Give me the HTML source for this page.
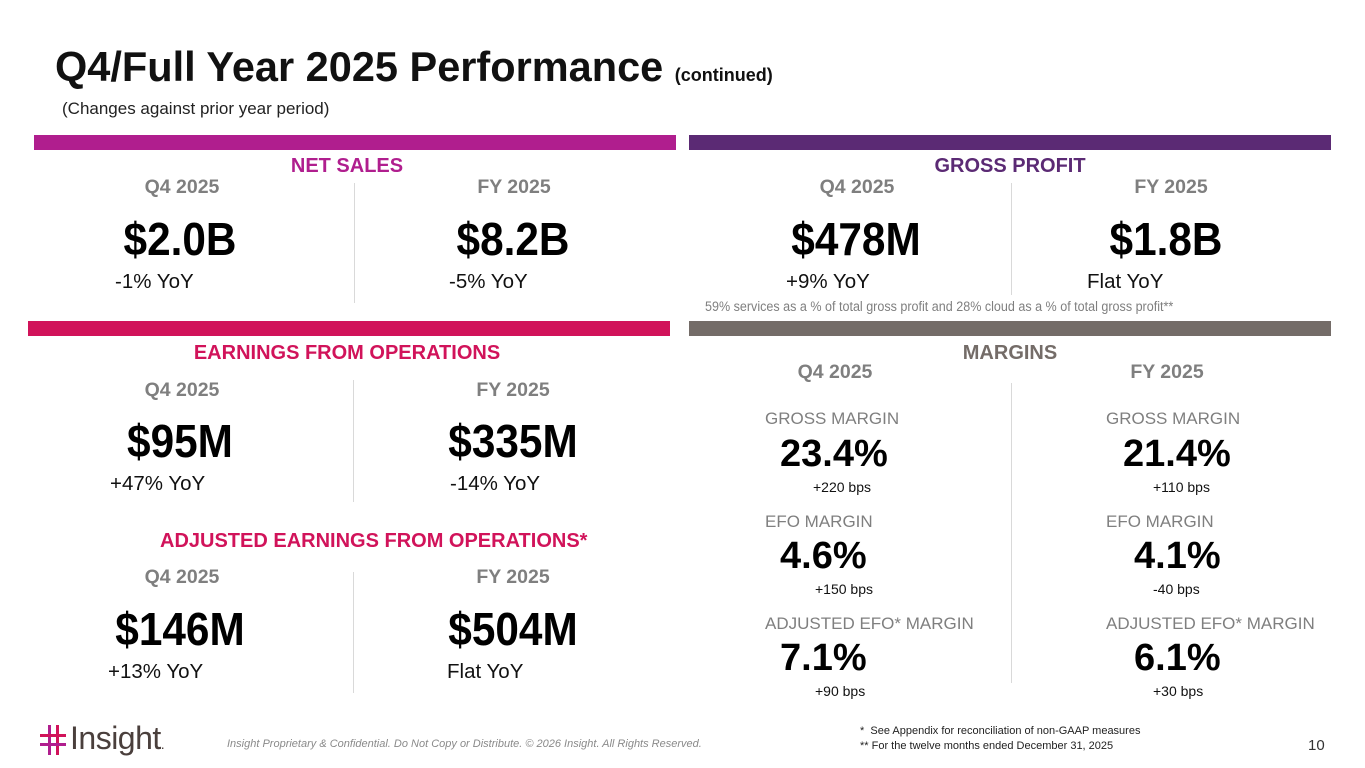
<!DOCTYPE html>
<html><head><meta charset="utf-8"><style>
body{margin:0;width:1365px;height:768px;position:relative;background:#fff;font-family:"Liberation Sans",Arial,sans-serif;overflow:hidden}
div{position:absolute;white-space:nowrap;line-height:1}
.c{width:400px;text-align:center}
.bar{height:15px}
.h{font-size:20px;font-weight:bold}
.p{font-size:19.5px;font-weight:bold;color:#7f7f7f}
.big{font-size:46px;font-weight:bold;color:#000;transform:scaleX(0.92)}
.y{font-size:20.5px;color:#111}
.dv{width:1px;background:#d9d9d9}
.ml{font-size:17px;color:#7f7f7f}
.mv{font-size:38px;font-weight:bold;color:#000}
.bp{font-size:14px;color:#111}
</style></head><body>
<div style="left:55px;top:46px;font-size:41.5px;font-weight:bold;color:#111">Q4/Full Year 2025 Performance <span style="font-size:18px">(continued)</span></div>
<div style="left:62px;top:100px;font-size:17px;color:#222">(Changes against prior year period)</div>

<div class="bar" style="left:34px;top:135px;width:642px;background:#B01E8E"></div>
<div class="bar" style="left:689px;top:135px;width:642px;background:#5B2A74"></div>
<div class="bar" style="left:28px;top:321px;width:642px;background:#D1135A"></div>
<div class="bar" style="left:689px;top:321px;width:642px;background:#746C68"></div>

<!-- Net sales -->
<div class="c h" style="left:147px;top:156px;color:#B01E8E">NET SALES</div>
<div class="c p" style="left:-18px;top:178px">Q4 2025</div>
<div class="c p" style="left:314px;top:178px">FY 2025</div>
<div class="c big" style="left:-20px;top:216px">$2.0B</div>
<div class="c big" style="left:313px;top:216px">$8.2B</div>
<div class="y" style="left:115px;top:272px">-1% YoY</div>
<div class="y" style="left:449px;top:272px">-5% YoY</div>
<div class="dv" style="left:354px;top:183px;height:120px"></div>

<!-- Gross profit -->
<div class="c h" style="left:810px;top:156px;color:#5B2A74">GROSS PROFIT</div>
<div class="c p" style="left:657px;top:178px">Q4 2025</div>
<div class="c p" style="left:971px;top:178px">FY 2025</div>
<div class="c big" style="left:656px;top:216px">$478M</div>
<div class="c big" style="left:966px;top:216px">$1.8B</div>
<div class="y" style="left:786px;top:272px">+9% YoY</div>
<div class="y" style="left:1087px;top:272px">Flat YoY</div>
<div class="dv" style="left:1011px;top:183px;height:112px"></div>
<div style="left:705px;top:300px;font-size:13.5px;color:#7f7f7f;transform:scaleX(0.93);transform-origin:left">59% services as a % of total gross profit and 28% cloud as a % of total gross profit**</div>

<!-- Earnings -->
<div class="c h" style="left:147px;top:343px;color:#D1135A">EARNINGS FROM OPERATIONS</div>
<div class="c p" style="left:-18px;top:381px">Q4 2025</div>
<div class="c p" style="left:313px;top:381px">FY 2025</div>
<div class="c big" style="left:-20px;top:418px">$95M</div>
<div class="c big" style="left:313px;top:418px">$335M</div>
<div class="y" style="left:110px;top:474px">+47% YoY</div>
<div class="y" style="left:450px;top:474px">-14% YoY</div>
<div class="dv" style="left:353px;top:380px;height:122px"></div>

<!-- Adjusted earnings -->
<div class="c h" style="left:160px;top:531px;color:#D1135A">ADJUSTED EARNINGS FROM OPERATIONS*</div>
<div class="c p" style="left:-18px;top:568px">Q4 2025</div>
<div class="c p" style="left:313px;top:568px">FY 2025</div>
<div class="c big" style="left:-20px;top:606px">$146M</div>
<div class="c big" style="left:313px;top:606px">$504M</div>
<div class="y" style="left:108px;top:662px">+13% YoY</div>
<div class="y" style="left:447px;top:662px">Flat YoY</div>
<div class="dv" style="left:353px;top:572px;height:121px"></div>

<!-- Margins -->
<div class="c h" style="left:810px;top:343px;color:#746C68">MARGINS</div>
<div class="c p" style="left:635px;top:363px">Q4 2025</div>
<div class="c p" style="left:967px;top:363px">FY 2025</div>
<div class="dv" style="left:1011px;top:383px;height:300px"></div>

<div class="ml" style="left:765px;top:410px">GROSS MARGIN</div>
<div class="mv" style="left:780px;top:435px">23.4%</div>
<div class="bp" style="left:813px;top:480px">+220 bps</div>
<div class="ml" style="left:765px;top:513px">EFO MARGIN</div>
<div class="mv" style="left:780px;top:537px">4.6%</div>
<div class="bp" style="left:815px;top:582px">+150 bps</div>
<div class="ml" style="left:765px;top:615px">ADJUSTED EFO* MARGIN</div>
<div class="mv" style="left:780px;top:639px">7.1%</div>
<div class="bp" style="left:815px;top:684px">+90 bps</div>

<div class="ml" style="left:1106px;top:410px">GROSS MARGIN</div>
<div class="mv" style="left:1123px;top:435px">21.4%</div>
<div class="bp" style="left:1153px;top:480px">+110 bps</div>
<div class="ml" style="left:1106px;top:513px">EFO MARGIN</div>
<div class="mv" style="left:1134px;top:537px">4.1%</div>
<div class="bp" style="left:1153px;top:582px">-40 bps</div>
<div class="ml" style="left:1106px;top:615px">ADJUSTED EFO* MARGIN</div>
<div class="mv" style="left:1134px;top:639px">6.1%</div>
<div class="bp" style="left:1153px;top:684px">+30 bps</div>

<!-- Footer -->
<div style="left:40px;top:722px;height:34px;width:130px">
  <svg width="26" height="30" viewBox="0 0 26 30" style="position:absolute;left:0;top:3px">
    <rect x="8" y="0" width="3" height="30" fill="#B01E8E"/><rect x="16" y="0" width="3" height="30" fill="#D1135A"/>
    <rect x="0" y="9" width="26" height="3" fill="#D1135A"/><rect x="0" y="18" width="26" height="3" fill="#B01E8E"/>
  </svg>
  <span style="position:absolute;left:30px;top:0;font-size:32px;color:#4a3f3c;letter-spacing:-0.5px">Insight<span style="font-size:14px">.</span></span>
</div>
<div style="left:227px;top:739px;font-size:11px;font-style:italic;color:#8a8a8a">Insight Proprietary &amp; Confidential. Do Not Copy or Distribute. © 2026 Insight. All Rights Reserved.</div>
<div style="left:860px;top:726px;font-size:11px;color:#222">*&nbsp; See Appendix for reconciliation of non-GAAP measures</div>
<div style="left:860px;top:741px;font-size:11px;color:#222">** For the twelve months ended December 31, 2025</div>
<div style="left:1308px;top:738px;font-size:15px;color:#333">10</div>
</body></html>
